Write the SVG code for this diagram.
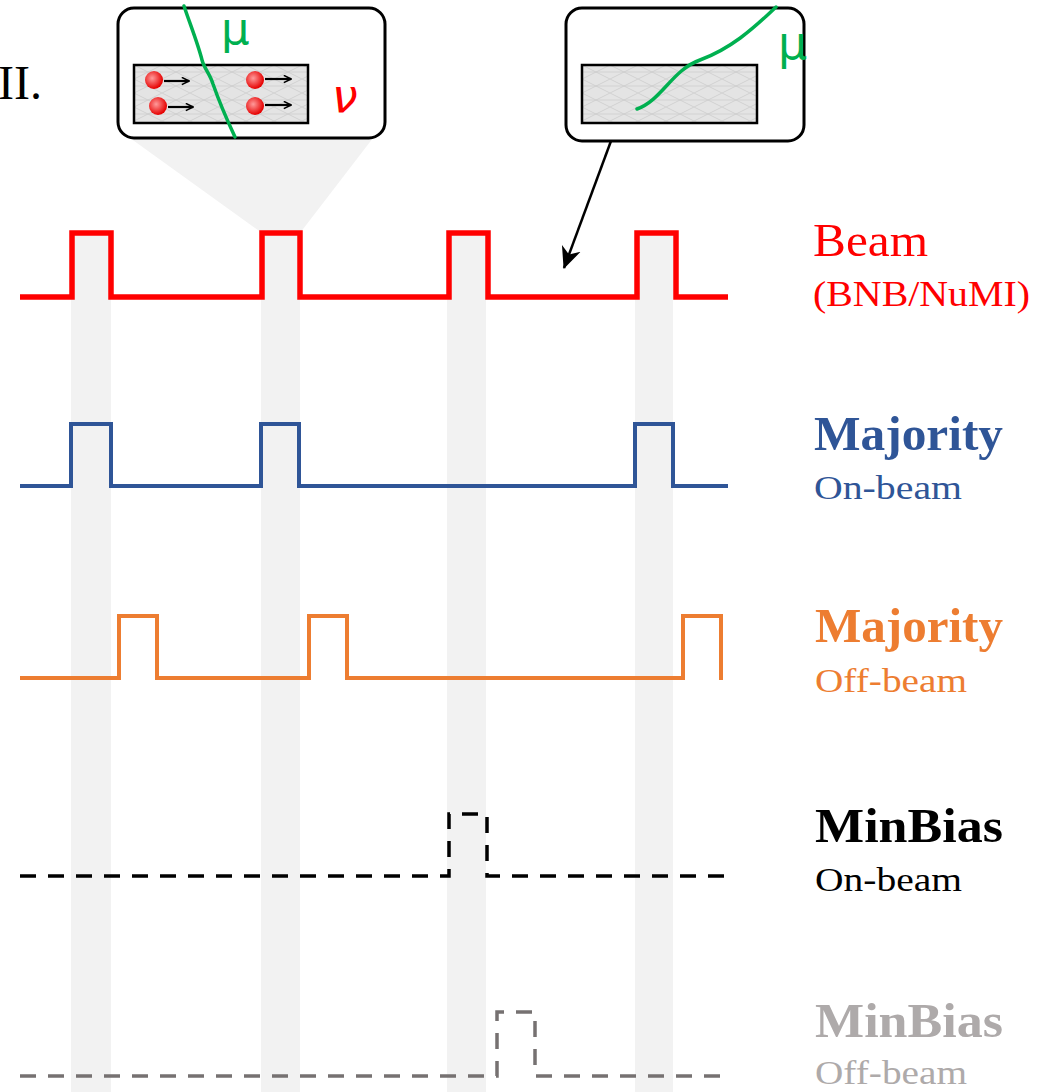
<svg xmlns="http://www.w3.org/2000/svg" width="1058" height="1092" viewBox="0 0 1058 1092">
  <style>
    .band { fill: #f2f2f2; }
    .sig { fill: none; stroke-linejoin: miter; stroke-linecap: butt; }
    .beam { stroke: #ff0000; stroke-width: 5.5; }
    .maj-on { stroke: #2f5597; stroke-width: 4; }
    .maj-off { stroke: #ed7d31; stroke-width: 4; }
    .mb-on { stroke: #000000; stroke-width: 3.5; stroke-dasharray: 16 12; }
    .mb-off { stroke: #767171; stroke-width: 3.5; stroke-dasharray: 16 12; }
    .lbl { font-family: "Liberation Serif", "DejaVu Serif", serif; }
    .title { font-size: 48px; font-weight: bold; }
    .sub { font-size: 34px; }
    .inset { fill: #ffffff; stroke: #000000; stroke-width: 3; }
    .det { fill: url(#mesh); stroke: #000000; stroke-width: 2.5; }
    .muon { fill: none; stroke: #00b050; stroke-width: 3.5; stroke-linecap: round; }
    .greek { font-family: "DejaVu Sans", "Liberation Sans", sans-serif; }
    .kick { stroke: #000; stroke-width: 2.2; }
  </style>
  <defs>
    <pattern id="mesh" patternUnits="userSpaceOnUse" x="134" y="65" width="28" height="14">
      <rect width="28" height="14" fill="#e4e4e4"/>
      <path d="M0,0 L28,14 M0,14 L28,0 M0,7 H28" stroke="#cdcdcd" stroke-width="0.8" fill="none"/>
    </pattern>
    <radialGradient id="ball" cx="0.4" cy="0.4" r="0.6">
      <stop offset="0" stop-color="#ff9a9a"/>
      <stop offset="1" stop-color="#e60000"/>
    </radialGradient>
    <marker id="tip-small" viewBox="0 0 10 10" refX="9" refY="5" markerWidth="9" markerHeight="9" orient="auto" markerUnits="userSpaceOnUse">
      <path d="M1,1 L9,5 L1,9" fill="none" stroke="#000" stroke-width="1.8"/>
    </marker>
    <marker id="tip" viewBox="0 0 20 20" refX="19" refY="10" markerWidth="22" markerHeight="22" orient="auto" markerUnits="userSpaceOnUse">
      <path d="M0,1 L20,10 L0,19 L6,10 z" fill="#000"/>
    </marker>
  </defs>

  <rect width="1058" height="1092" fill="#ffffff"/>

  <!-- coincidence bands under each beam spill -->
  <g id="bands">
    <rect class="band" x="71" y="233" width="40" height="859"/>
    <rect class="band" x="261" y="233" width="39" height="859"/>
    <rect class="band" x="447" y="233" width="39" height="859"/>
    <rect class="band" x="635" y="233" width="38" height="859"/>
  </g>

  <!-- zoom wedge from inset to the second spill -->
  <polygon class="band" points="130,138 373,138 300,233 262,233"/>

  <!-- label at left edge -->
  <text class="lbl" x="-2" y="99" font-size="48" fill="#000">II.</text>

  <!-- inset: neutrino interaction during spill -->
  <g id="inset-spill">
    <rect class="inset" x="118" y="8" width="267" height="130" rx="16"/>
    <rect class="det" x="134" y="65" width="174" height="58"/>
    <circle cx="154" cy="80" r="9" fill="url(#ball)"/>
    <circle cx="158" cy="106" r="9" fill="url(#ball)"/>
    <circle cx="255" cy="80" r="9" fill="url(#ball)"/>
    <circle cx="255" cy="106" r="9" fill="url(#ball)"/>
    <line class="kick" x1="164" y1="81" x2="189" y2="81" marker-end="url(#tip-small)"/>
    <line class="kick" x1="168" y1="107" x2="193" y2="107" marker-end="url(#tip-small)"/>
    <line class="kick" x1="265" y1="79" x2="291" y2="79" marker-end="url(#tip-small)"/>
    <line class="kick" x1="265" y1="105" x2="291" y2="105" marker-end="url(#tip-small)"/>
    <path class="muon" d="M184,6 C190,24 198,44 202,60 C204,68 210,74 213,84 C220,104 228,122 235,137"/>
    <text class="greek" x="221" y="44" font-size="45" fill="#00b050">μ</text>
    <text class="greek" x="332" y="112" font-size="46" font-style="italic" fill="#ff0000">ν</text>
  </g>

  <!-- inset: cosmic muon outside spill -->
  <g id="inset-cosmic">
    <rect class="inset" x="566" y="8" width="238" height="133" rx="16"/>
    <rect class="det" x="582" y="65" width="175" height="58"/>
    <path class="muon" d="M637,109 C662,100 672,70 700,60 C730,49 752,30 776,7"/>
    <text class="greek" x="778" y="59" font-size="46" fill="#00b050">μ</text>
  </g>

  <!-- connectors -->
  <g id="connectors">
    <line x1="611" y1="141" x2="564" y2="268" stroke="#000" stroke-width="2.5" marker-end="url(#tip)"/>
  </g>

  <!-- signal traces -->
  <g id="trace-beam">
    <path class="sig beam" d="M20,297 H72 V233 H111 V297 H262 V233 H300 V297 H449 V233 H488 V297 H637 V233 H676 V297 H728"/>
    <text class="lbl" x="813" y="256" font-size="47" fill="#ff0000" textLength="115" lengthAdjust="spacingAndGlyphs">Beam</text>
    <text class="lbl" x="813" y="306" font-size="36" fill="#ff0000" textLength="217" lengthAdjust="spacingAndGlyphs">(BNB/NuMI)</text>
  </g>

  <g id="trace-majority-on">
    <path class="sig maj-on" d="M20,486 H71 V424 H111 V486 H261 V424 H299 V486 H635 V424 H673 V486 H728"/>
    <text class="lbl title" x="814" y="450" fill="#2f5597" textLength="189" lengthAdjust="spacingAndGlyphs">Majority</text>
    <text class="lbl sub" x="814" y="499" fill="#2f5597" textLength="148" lengthAdjust="spacingAndGlyphs">On-beam</text>
  </g>

  <g id="trace-majority-off">
    <path class="sig maj-off" d="M20,678 H119 V616 H157 V678 H309 V616 H347 V678 H683 V616 H721 V680"/>
    <text class="lbl title" x="815" y="642" fill="#ed7d31" textLength="188" lengthAdjust="spacingAndGlyphs">Majority</text>
    <text class="lbl sub" x="815" y="692" fill="#ed7d31" textLength="152" lengthAdjust="spacingAndGlyphs">Off-beam</text>
  </g>

  <g id="trace-minbias-on">
    <path class="sig mb-on" d="M20,876 H449 V814 H487 V876 H728"/>
    <text class="lbl title" x="815" y="842" fill="#000000" textLength="188" lengthAdjust="spacingAndGlyphs">MinBias</text>
    <text class="lbl sub" x="815" y="891" fill="#000000" textLength="147" lengthAdjust="spacingAndGlyphs">On-beam</text>
  </g>

  <g id="trace-minbias-off">
    <path class="sig mb-off" d="M20,1076 H497 V1012 H535 V1076 H728"/>
    <text class="lbl title" x="815" y="1037" fill="#aeaaaa" textLength="188" lengthAdjust="spacingAndGlyphs">MinBias</text>
    <text class="lbl sub" x="815" y="1084" fill="#aeaaaa" textLength="152" lengthAdjust="spacingAndGlyphs">Off-beam</text>
  </g>
</svg>
